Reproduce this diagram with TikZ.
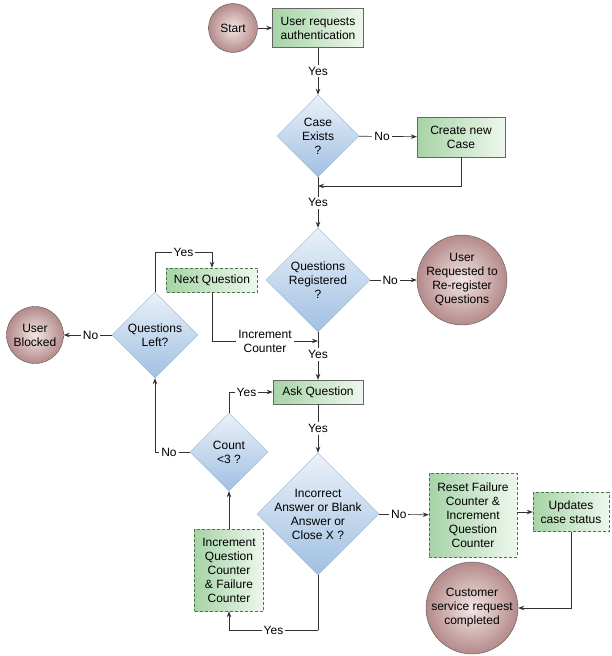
\documentclass[tikz,border=0pt]{standalone}
\usepackage{fontspec}
\setmainfont{Liberation Sans}
\usetikzlibrary{shapes.geometric,arrows.meta,calc}
\definecolor{gL}{RGB}{166,212,166}
\definecolor{gR}{RGB}{238,247,238}
\definecolor{bT}{RGB}{234,241,249}
\definecolor{bB}{RGB}{160,192,226}
\definecolor{rI}{RGB}{244,230,230}
\definecolor{rO}{RGB}{180,138,138}
\definecolor{lineC}{RGB}{50,50,50}
\begin{document}
\begin{tikzpicture}[x=1pt,y=-1pt,
  every node/.style={font=\fontsize{12}{14}\selectfont, align=center},
  gbox/.style={rectangle, draw=gray!80!black, left color=gL, right color=gR, inner sep=0pt},
  dbox/.style={gbox, draw=black!60!green!40!gray, dash pattern=on 3pt off 2pt},
  dia/.style={diamond, draw=bB!80!gray, top color=bT, bottom color=bB, inner sep=0pt, aspect=1},
  circ/.style={circle, draw=gray!70!black, inner color=rI, outer color=rO, inner sep=0pt},
  arr/.style={draw=lineC, line width=0.7pt, -{Stealth[length=6pt,width=4.5pt]}},
  ln/.style={draw=lineC, line width=0.7pt},
  lbl/.style={fill=white, inner sep=2pt}
]
\useasboundingbox (0,0) rectangle (612,656);

% shapes
\node[circ, minimum size=49pt] (start) at (233,28) {};
\node at (start) {Start};
\node[gbox, minimum width=91pt, minimum height=39pt] (auth) at (318,28) {User requests\\authentication};
\node[dia, minimum width=82pt, minimum height=82pt] (case) at (318,136) {};
\node at (case) {Case\\Exists\\?};
\node[gbox, minimum width=88pt, minimum height=40pt] (create) at (461,137) {Create new\\Case};
\node[dia, minimum width=104pt, minimum height=104pt] (qreg) at (318,280) {};
\node at (qreg) {Questions\\Registered\\?};
\node[circ, minimum size=90pt] (rereg) at (462,280) {};
\node at (rereg) {User\\Requested to\\Re-register\\Questions};
\node[dia, minimum width=86pt, minimum height=86pt] (qleft) at (155,335) {};
\node at (qleft) {Questions\\Left?};
\node[circ, minimum size=57pt] (blocked) at (35,335) {};
\node at (blocked) {User\\Blocked};
\node[dbox, minimum width=91pt, minimum height=24pt] (nextq) at (212,280) {Next Question};
\node[gbox, minimum width=90pt, minimum height=24pt] (ask) at (318,392) {Ask Question};
\node[dia, minimum width=122pt, minimum height=122pt] (inc) at (318,514) {};
\node at (inc) {Incorrect\\Answer or Blank\\Answer or\\Close X ?};
\node[dbox, minimum width=88pt, minimum height=84pt] (reset) at (473,515) {Reset Failure\\Counter \&\\Increment\\Question\\Counter};
\node[dbox, minimum width=76pt, minimum height=39pt] (upd) at (571,512) {Updates\\case status};
\node[circ, minimum size=92pt] (cust) at (472,608) {};
\node at (cust) {Customer\\service request\\completed};
\node[dia, minimum width=78pt, minimum height=78pt] (count) at (229,452) {};
\node at (count) {Count\\<3 ?};
\node[dbox, minimum width=69pt, minimum height=82pt] (incbox) at (229,570) {Increment\\Question\\Counter\\\& Failure\\Counter};

% helper coordinates
\coordinate (m1) at (318,186);
\coordinate (m2) at (318,341);
\coordinate (y1) at (212,252);
\coordinate (b1) at (318,630);
\coordinate (b2) at (229,630);

% connectors
\draw[arr] (start) -- (auth);
\draw[arr] (auth) -- node[lbl]{Yes} (case);
\draw[arr] (case) -- node[lbl, pos=0.4]{No} (create);
\draw[arr] (create.south) |- (m1);
\draw[ln] (case.south) -- (m1);
\draw[arr] (m1) -- node[lbl, pos=0.4]{Yes} (qreg.north);
\draw[arr] (qreg) -- node[lbl, pos=0.43]{No} (rereg);
\draw[arr] (qleft) -- node[lbl, pos=0.44]{No} (blocked);
\draw[arr] (qleft.north) |- node[lbl, pos=0.75]{Yes} (y1) -- (nextq.north);
\draw[arr] (nextq.south) |- node[lbl, pos=0.75]{Increment\\Counter} (m2);
\draw[ln] (qreg.south) -- (m2);
\draw[arr] (m2) -- node[lbl, pos=0.35]{Yes} (ask.north);
\draw[arr] (ask) -- node[lbl]{Yes} (inc);
\draw[arr] (inc) -- node[lbl, pos=0.4]{No} (reset);
\draw[arr] (reset.east |- upd.west) -- (upd.west);
\draw[arr] (upd.south) |- (cust.east);
\draw[arr] (count.north) |- node[lbl, pos=0.7]{Yes} (ask.west);
\draw[arr] (count.west) -| node[lbl, pos=0.3]{No} (qleft.south);
\draw[ln] (inc.south) -- (b1);
\draw[arr] (b1) -- node[lbl, pos=0.5]{Yes} (b2) -- (incbox.south);
\draw[arr] (incbox.north) -- (count.south);
\end{tikzpicture}
\end{document}
